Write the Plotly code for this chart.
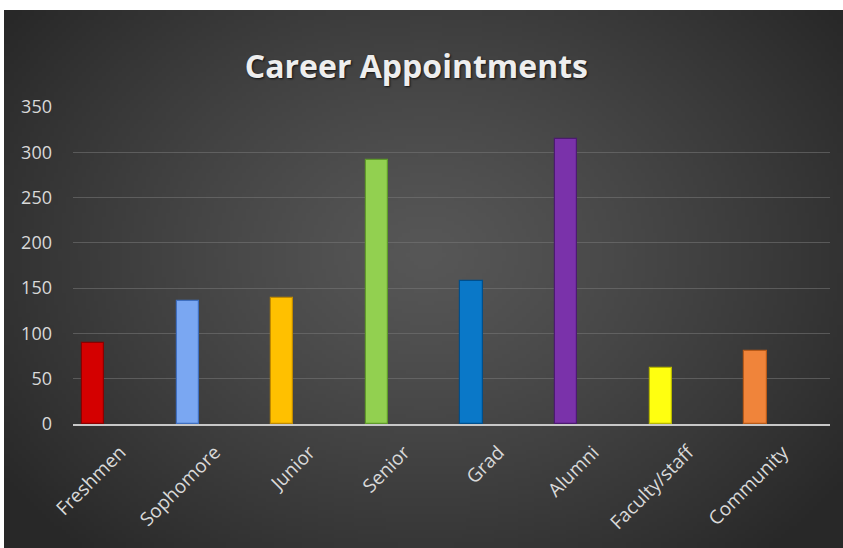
import base64
import struct
import zlib

import numpy as np
import plotly.graph_objects as go

# ---- data ----
categories = ["Freshmen", "Sophomore", "Junior", "Senior", "Grad", "Alumni", "Faculty/staff", "Community"]
appointments = [89, 136, 139, 292, 158, 315, 62, 81]
bar_colors = ["#d40000", "#7aa7f2", "#ffc000", "#92d050", "#0a78c8", "#7a32aa", "#ffff10", "#f0843a"]
edge_colors = ["#8a0000", "#3f6fc0", "#c08a00", "#5f9a2a", "#004f8c", "#4c1a70", "#b8b800", "#b85a18"]
y_ticks = [0, 50, 100, 150, 200, 250, 300, 350]

# ---- background radial gradient as a small PNG ----
W, H = 210, 134
yy, xx = np.mgrid[0:H, 0:W]
cx, cy = W * 0.5, H * 0.45
d = np.sqrt(((xx - cx) / (W * 0.62)) ** 2 + ((yy - cy) / (H * 0.75)) ** 2)
d = np.clip(d, 0, 1)
val = (0x57 - (0x57 - 0x28) * d ** 1.2).astype(np.uint8)
raw = b"".join(b"\x00" + bytes(np.repeat(row, 3)) for row in val)


def chunk(tag, data):
    c = struct.pack(">I", len(data)) + tag + data
    return c + struct.pack(">I", zlib.crc32(tag + data) & 0xFFFFFFFF)


png = b"\x89PNG\r\n\x1a\n" + chunk(b"IHDR", struct.pack(">IIBBBBB", W, H, 8, 2, 0, 0, 0)) \
    + chunk(b"IDAT", zlib.compress(raw, 9)) + chunk(b"IEND", b"")
bg_uri = "data:image/png;base64," + base64.b64encode(png).decode()

fig = go.Figure(
    go.Bar(
        x=categories,
        y=appointments,
        width=0.235,
        offset=-0.405,
        marker=dict(color=bar_colors, line=dict(color=edge_colors, width=1.2)),
        hoverinfo="x+y",
    )
)

# plot area pixels: x 73..830, y 107..424 in an 843x548 figure
L, R, T, B = 73, 13, 107, 124
pw, ph = 843 - L - R, 548 - T - B
fig.add_layout_image(
    source=bg_uri,
    xref="paper", yref="paper",
    x=(4 - L) / pw, y=(548 - B - 10) / ph,
    sizex=(843 - 4) / pw, sizey=(548 - 10) / ph,
    xanchor="left", yanchor="top",
    sizing="stretch", layer="below",
)

fig.update_layout(
    width=843, height=548,
    margin=dict(l=L, r=R, t=T, b=B),
    paper_bgcolor="white",
    plot_bgcolor="rgba(0,0,0,0)",
    showlegend=False,
    bargap=0,
    title=dict(
        text="<b>Career Appointments</b>",
        x=0.494, xanchor="center",
        y=1 - 67 / 548, yanchor="middle",
        font=dict(family="Open Sans", size=32, color="#eeeeee", shadow="1px 1px 2px #111"),
    ),
    font=dict(family="Open Sans", color="#d9d9d9"),
    xaxis=dict(
        type="category",
        tickangle=-45,
        tickfont=dict(size=19, color="#d9d9d9"),
        showgrid=False,
        showline=True,
        linecolor="#c8c8c8",
        linewidth=1.5,
        ticks="",
        ticklabelstandoff=8,
    ),
    yaxis=dict(
        range=[0, 350],
        tickvals=y_ticks,
        tickfont=dict(size=18, color="#d9d9d9"),
        showgrid=True,
        gridcolor="rgba(120,120,120,0.55)",
        gridwidth=1,
        zeroline=False,
        showline=False,
        ticks="",
        ticklabelstandoff=20,
    ),
)

fig.write_html("out.html")
